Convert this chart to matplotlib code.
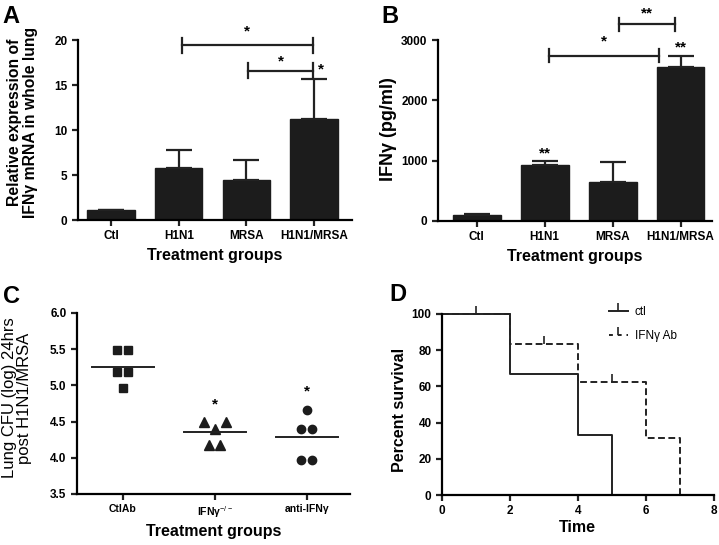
import matplotlib
matplotlib.use("Agg")
import matplotlib.pyplot as plt
from matplotlib.lines import Line2D
import numpy as np

plt.rcParams['font.family'] = ['Liberation Sans', 'DejaVu Sans']
plt.rcParams['mathtext.fontset'] = 'custom'
plt.rcParams['mathtext.rm'] = 'Liberation Sans'
plt.rcParams['mathtext.bf'] = 'Liberation Sans:bold'
plt.rcParams['mathtext.it'] = 'Liberation Sans:italic'

# Panel A - relative IFNg mRNA
groups_ab = ["Ctl", "H1N1", "MRSA", "H1N1/MRSA"]
mrna_mean = [1.1, 5.8, 4.4, 11.2]
mrna_err = [0.05, 2.0, 2.3, 4.5]

# Panel B - IFNg protein (pg/ml)
ifng_mean = [100, 920, 640, 2550]
ifng_err = [10, 80, 340, 190]

# Panel C - lung CFU (log)
c_groups = ["CtlAb", "IFNγ$^{-/-}$", "anti-IFNγ"]
c_ctl = [5.49, 5.49, 5.18, 5.18, 4.97]
c_ko = [4.50, 4.50, 4.40, 4.17, 4.17]
c_anti = [4.66, 4.40, 4.40, 3.97, 3.97]
c_means = [5.26, 4.355, 4.285]

# Panel D - survival
surv_time = [0, 2, 2, 4, 4, 5, 5]
surv_ctl = [100, 100, 66.7, 66.7, 33.3, 33.3, 0]
surv_ab_time = [0, 2, 2, 4, 4, 6, 6, 7, 7, 8]
surv_ab = [100, 100, 83.3, 83.3, 62.5, 62.5, 31.25, 31.25, 0, 0]
cens_ctl_t, cens_ctl_y = [1], [100]
cens_ab_t, cens_ab_y = [3, 5], [83.3, 62.5]

BAR = "#1c1c1c"
INK = "#222222"
LW = 1.6

fig = plt.figure(figsize=(7.19, 5.45), dpi=100)


def style_axes(ax):
    ax.spines['top'].set_visible(False)
    ax.spines['right'].set_visible(False)
    ax.spines['left'].set_linewidth(LW)
    ax.spines['bottom'].set_linewidth(LW)
    ax.tick_params(width=LW, length=4, labelsize=8.5, color=INK)
    for lab in ax.get_yticklabels() + ax.get_xticklabels():
        lab.set_fontweight('bold')


def bracket(ax, x1, x2, y, h, label, ty, tx=None, fs=11):
    ax.plot([x1, x2], [y, y], color=INK, lw=LW, clip_on=False)
    for x in (x1, x2):
        ax.plot([x, x], [y - h, y + h], color=INK, lw=LW, clip_on=False)
    if tx is None:
        tx = (x1 + x2) / 2
    ax.text(tx, ty, label, ha='center', va='center', fontsize=fs,
            fontweight='bold', clip_on=False)


# ---------------- A ----------------
axA = fig.add_axes([0.1085, 0.5963, 0.381, 0.3303])
xa = np.arange(len(groups_ab))
axA.bar(xa, mrna_mean, width=0.7, color=BAR, edgecolor=BAR)
axA.errorbar(xa, mrna_mean, yerr=[np.zeros(4), mrna_err], fmt='none',
             ecolor=INK, elinewidth=LW, capsize=9.5, capthick=LW)
axA.set_xlim(-0.49, 3.56)
axA.set_ylim(0, 20)
axA.set_yticks([0, 5, 10, 15, 20])
axA.set_xticks(xa)
axA.set_xticklabels(groups_ab)
axA.set_xlabel("Treatment groups", fontsize=11.5, fontweight='bold', labelpad=4)
axA.set_ylabel("Relative expression of\nIFNγ mRNA in whole lung",
               fontsize=11.3, fontweight='bold', linespacing=1.1)
axA.yaxis.set_label_coords(-0.146, 0.54)
style_axes(axA)
bracket(axA, 1.05, 2.98, 19.4, 0.85, "*", 20.9)
bracket(axA, 2.03, 2.98, 16.6, 0.85, "*", 17.6)
axA.text(3.1, 16.7, "*", ha='center', va='center', fontsize=11,
         fontweight='bold')
fig.text(0.004, 0.99, "A", fontsize=17, fontweight='bold', va='top')

# ---------------- B ----------------
axB = fig.add_axes([0.6092, 0.5945, 0.381, 0.3321])
axB.bar(xa, ifng_mean, width=0.7, color=BAR, edgecolor=BAR)
axB.errorbar(xa, ifng_mean, yerr=[np.zeros(4), ifng_err], fmt='none',
             ecolor=INK, elinewidth=LW, capsize=9.5, capthick=LW)
axB.set_xlim(-0.57, 3.46)
axB.set_ylim(0, 3000)
axB.set_yticks([0, 1000, 2000, 3000])
axB.set_xticks(xa)
axB.set_xticklabels(groups_ab)
axB.set_xlabel("Treatment groups", fontsize=11.5, fontweight='bold', labelpad=4)
axB.set_ylabel("IFNγ (pg/ml)", fontsize=13, fontweight='bold')
axB.yaxis.set_label_coords(-0.15, 0.51)
style_axes(axB)
bracket(axB, 1.06, 2.68, 2740, 110, "*", 2970)
bracket(axB, 2.09, 2.92, 3260, 110, "**", 3440)
axB.text(1.0, 1120, "**", ha='center', va='center', fontsize=11,
         fontweight='bold')
axB.text(3.0, 2880, "**", ha='center', va='center', fontsize=11,
         fontweight='bold')
fig.text(0.531, 0.99, "B", fontsize=17, fontweight='bold', va='top')

# ---------------- C ----------------
axC = fig.add_axes([0.107, 0.0936, 0.38, 0.3321])
off5 = [-0.06, 0.06, -0.06, 0.06, 0.0]
offK = [-0.12, 0.12, 0.0, -0.06, 0.06]
offA = [0.0, -0.06, 0.06, -0.06, 0.06]
axC.plot(np.array(off5) + 0, c_ctl, 's', color=BAR, ms=6, clip_on=False)
axC.plot(np.array(offK) + 1, c_ko, '^', color=BAR, ms=6.5, clip_on=False)
axC.plot(np.array(offA) + 2, c_anti, 'o', color=BAR, ms=6, clip_on=False)
for i, m in enumerate(c_means):
    axC.plot([i - 0.34, i + 0.34], [m, m], color=INK, lw=1.4)
axC.text(1, 4.73, "*", ha='center', va='center', fontsize=11, fontweight='bold')
axC.text(2, 4.92, "*", ha='center', va='center', fontsize=11, fontweight='bold')
axC.set_xlim(-0.5, 2.47)
axC.set_ylim(3.5, 6.0)
axC.set_yticks(np.arange(3.5, 6.01, 0.5))
axC.set_yticklabels([f"{v:.1f}" for v in np.arange(3.5, 6.01, 0.5)])
axC.set_xticks([0, 1, 2])
axC.set_xticklabels(c_groups)
axC.set_xlabel("Treatment groups", fontsize=11.5, fontweight='bold', labelpad=3)
axC.set_ylabel("Lung CFU (log) 24hrs\npost H1N1/MRSA", fontsize=12,
               linespacing=0.95)
axC.yaxis.set_label_coords(-0.165, 0.53)
style_axes(axC)
for lab in axC.get_xticklabels():
    lab.set_fontsize(7.5)
fig.text(0.004, 0.477, "C", fontsize=17, fontweight='bold', va='top')

# ---------------- D ----------------
axD = fig.add_axes([0.6147, 0.0917, 0.378, 0.3322])
axD.plot(surv_ab_time, surv_ab, color=INK, lw=1.4, ls=(0, (3.5, 1.8)),
         clip_on=False)
axD.plot(surv_time, surv_ctl, color=INK, lw=1.4, clip_on=False)
axD.plot(cens_ctl_t, cens_ctl_y, ls='none', marker=2, ms=6, mew=1.2,
         color=INK, clip_on=False)
axD.plot(cens_ab_t, cens_ab_y, ls='none', marker=2, ms=6, mew=1.2,
         color=INK, clip_on=False)
axD.set_xlim(0, 8)
axD.set_ylim(0, 100)
axD.set_xticks([0, 2, 4, 6, 8])
axD.set_yticks([0, 20, 40, 60, 80, 100])
axD.set_xlabel("Time", fontsize=11.5, fontweight='bold', labelpad=2)
axD.set_ylabel("Percent survival", fontsize=11.5, fontweight='bold')
axD.yaxis.set_label_coords(-0.129, 0.47)
style_axes(axD)
handles = [
    Line2D([0, 0.5, 1], [0, 0, 0], color=INK, lw=1.4, marker=2, ms=6,
           mew=1.2, markevery=[1]),
    Line2D([0, 0.5, 1], [0, 0, 0], color=INK, lw=1.4, ls=(0, (2, 2.5)),
           marker=2, ms=6, mew=1.2, markevery=[1]),
]
axD.legend(handles, ["ctl", "IFNγ Ab"], loc='upper left',
           bbox_to_anchor=(0.575, 1.1), frameon=False, fontsize=8.5,
           handlelength=1.6, handletextpad=0.6, labelspacing=0.95)
fig.text(0.542, 0.48, "D", fontsize=17, fontweight='bold', va='top')

fig.savefig("out.png", dpi=100)
